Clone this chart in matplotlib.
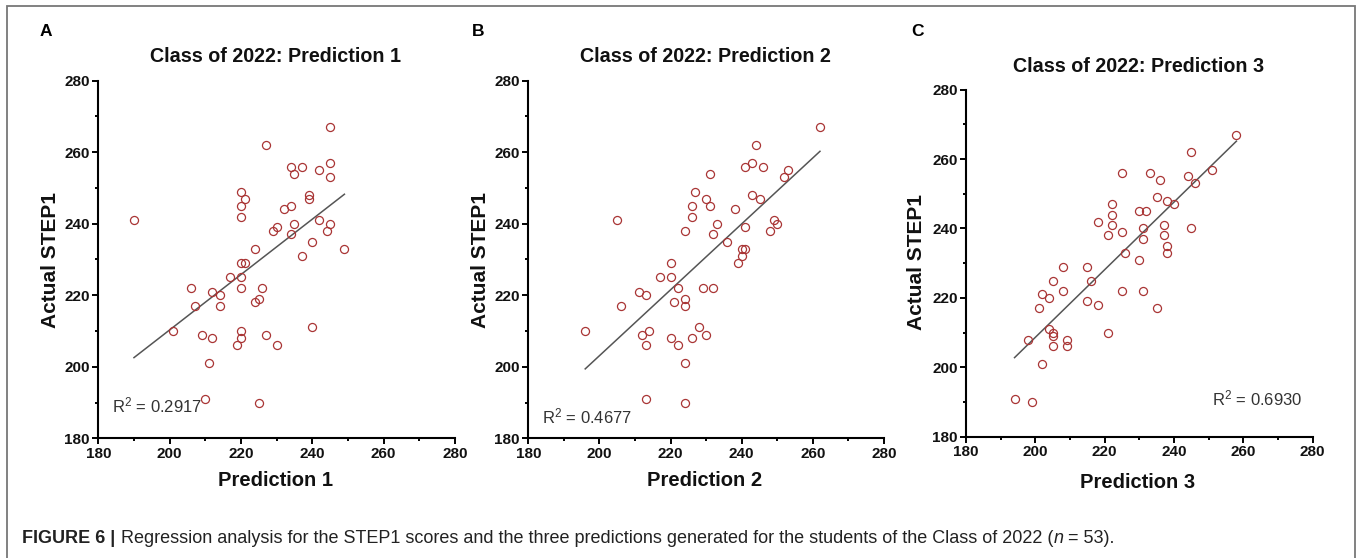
import numpy as np
import matplotlib
matplotlib.use("Agg")
import matplotlib.pyplot as plt
from matplotlib.ticker import MultipleLocator
from matplotlib.patches import Rectangle

# ---------------- data ----------------
pred1 = [190, 245, 227, 234, 237, 235, 242, 245, 245, 220, 221, 220, 220, 239, 239,
         234, 232, 242, 245, 235, 230, 229, 244, 234, 240, 249, 224, 237, 220, 221,
         217, 220, 206, 220, 226, 212, 214, 225, 224, 207, 214, 201, 220, 240, 209,
         227, 212, 220, 219, 230, 211, 210, 225]
step1_a = [241, 267, 262, 256, 256, 254, 255, 257, 253, 249, 247, 245, 242, 248, 247,
           245, 244, 241, 240, 240, 239, 238, 238, 237, 235, 233, 233, 231, 229, 229,
           225, 225, 222, 222, 222, 221, 220, 219, 218, 217, 217, 210, 210, 211, 209,
           209, 208, 208, 206, 206, 201, 191, 190]

pred2 = [262, 244, 243, 241, 246, 253, 252, 231, 227, 230, 226, 231, 243, 245, 238,
         226, 205, 233, 249, 250, 241, 224, 232, 248, 236, 240, 241, 240, 239, 220,
         217, 220, 222, 229, 232, 211, 213, 224, 221, 224, 206, 196, 214, 228, 212,
         230, 220, 226, 213, 222, 224, 213, 224]
step1_b = [267, 262, 257, 256, 256, 255, 253, 254, 249, 247, 245, 245, 248, 247, 244,
           242, 241, 240, 241, 240, 239, 238, 237, 238, 235, 233, 233, 231, 229, 229,
           225, 225, 222, 222, 222, 221, 220, 219, 218, 217, 217, 210, 210, 211, 209,
           209, 208, 208, 206, 206, 201, 191, 190]

pred3 = [258, 245, 251, 225, 233, 236, 244, 246, 235, 238, 240, 222, 222, 230, 232,
         218, 222, 237, 231, 245, 221, 225, 237, 231, 238, 238, 226, 230, 208, 215,
         205, 216, 208, 225, 231, 202, 204, 215, 218, 201, 235, 204, 205, 205, 221,
         198, 209, 205, 209, 202, 194, 199]
step1_c = [267, 262, 257, 256, 256, 254, 255, 253, 249, 248, 247, 247, 244, 245, 245,
           242, 241, 241, 240, 240, 238, 239, 238, 237, 235, 233, 233, 231, 229, 229,
           225, 225, 222, 222, 222, 221, 220, 219, 218, 217, 217, 211, 210, 209, 210,
           208, 208, 206, 206, 201, 191, 190]

panel_letters = ["A", "B", "C"]
titles = ["Class of 2022: Prediction 1", "Class of 2022: Prediction 2", "Class of 2022: Prediction 3"]
xlabels = ["Prediction 1", "Prediction 2", "Prediction 3"]
ylabel = "Actual STEP1"
r2_texts = ["R$^2$ = 0.2917", "R$^2$ = 0.4677", "R$^2$ = 0.6930"]
ticks = [180, 200, 220, 240, 260, 280]

# ---------------- layout ----------------
W, H = 1357, 558
plt.rcParams["mathtext.default"] = "regular"
plt.rcParams["font.family"] = ["Liberation Sans", "DejaVu Sans"]
fig = plt.figure(figsize=(W / 100, H / 100), dpi=100)

def fx(x):
    return x / W

def fy(y):
    return 1 - y / H

# axes boxes in pixel coords: left, top, right, bottom
boxes = [(98.3, 80.7, 455.0, 438.3),
         (528.3, 80.7, 884.0, 438.3),
         (966.0, 89.7, 1312.7, 436.7)]
letter_pos = [(46, 32), (478, 32), (918, 32)]
title_pos = [(276, 57), (705, 57), (1139, 66)]
ylab_pos = [(50, 260), (480, 260), (917, 262)]
xlab_pos = [(276, 481), (705, 481), (1138, 482)]
r2_pos = [(183.8, 187.3), (183.8, 184.2), (250.9, 189.1)]

datasets = [(pred1, step1_a), (pred2, step1_b), (pred3, step1_c)]
tick_font = ["Liberation Sans Narrow", "Liberation Sans", "DejaVu Sans"]
marker_color = "#A93535"

for i, (xs, ys) in enumerate(datasets):
    l, t, r, b = boxes[i]
    ax = fig.add_axes([fx(l), fy(b), (r - l) / W, (b - t) / H])
    xs = np.array(xs, dtype=float)
    ys = np.array(ys, dtype=float)
    ax.plot(xs, ys, linestyle="none", marker="o", markersize=5.8,
            markerfacecolor="none", markeredgecolor=marker_color, markeredgewidth=0.9,
            zorder=3)
    k, c0 = np.polyfit(xs, ys, 1)
    xl = np.array([xs.min(), xs.max()])
    ax.plot(xl, k * xl + c0, color="#555555", linewidth=1.1, zorder=2)

    ax.set_xlim(180, 280)
    ax.set_ylim(180, 280)
    ax.set_xticks(ticks)
    ax.set_yticks(ticks)
    ax.xaxis.set_minor_locator(MultipleLocator(10))
    ax.yaxis.set_minor_locator(MultipleLocator(10))
    for s in ["top", "right"]:
        ax.spines[s].set_visible(False)
    for s in ["left", "bottom"]:
        ax.spines[s].set_linewidth(1.5)
    ax.tick_params(which="major", direction="out", length=4.5, width=1.4, pad=1.5)
    ax.tick_params(which="minor", direction="out", length=2.5, width=1.4)
    for lab in ax.get_xticklabels() + ax.get_yticklabels():
        lab.set_family(tick_font)
        lab.set_fontweight("bold")
        lab.set_fontsize(11)
        lab.set_color("#111111")
    ax.text(r2_pos[i][0], r2_pos[i][1], r2_texts[i], fontsize=12, color="#333333",
            ha="left", va="baseline")

    fig.text(fx(letter_pos[i][0]), fy(letter_pos[i][1]), panel_letters[i],
             fontsize=12.5, fontweight="bold", ha="center", va="center")
    fig.text(fx(title_pos[i][0]), fy(title_pos[i][1]), titles[i],
             fontsize=14.2, fontweight="bold", ha="center", va="center", color="#111111")
    fig.text(fx(ylab_pos[i][0]), fy(ylab_pos[i][1]), ylabel, rotation=90,
             fontsize=15, fontweight="bold", ha="center", va="center", color="#111111")
    fig.text(fx(xlab_pos[i][0]), fy(xlab_pos[i][1]), xlabels[i],
             fontsize=14.5, fontweight="bold", ha="center", va="center", color="#111111")

# frame around the figure
fig.patches.append(Rectangle((fx(7), fy(575)), (1355 - 7) / W, (575 - 6) / H,
                             transform=fig.transFigure, fill=False,
                             edgecolor="#777777", linewidth=1.3))

# caption, chained pieces
pieces = [("FIGURE 6 | ", "bold", "normal"),
          ("Regression analysis for the STEP1 scores and the three predictions generated for the students of the Class of 2022 (", "normal", "normal"),
          ("n", "normal", "italic"),
          (" = 53).", "normal", "normal")]
fig.canvas.draw()
renderer = fig.canvas.get_renderer()
xcur = 22.5
for txt, wt, st in pieces:
    tt = fig.text(fx(xcur), fy(543), txt, fontsize=13, fontweight=wt, fontstyle=st,
                  ha="left", va="baseline", color="#222222")
    bb = tt.get_window_extent(renderer=renderer)
    xcur += bb.width

fig.savefig("out.png", dpi=100)
